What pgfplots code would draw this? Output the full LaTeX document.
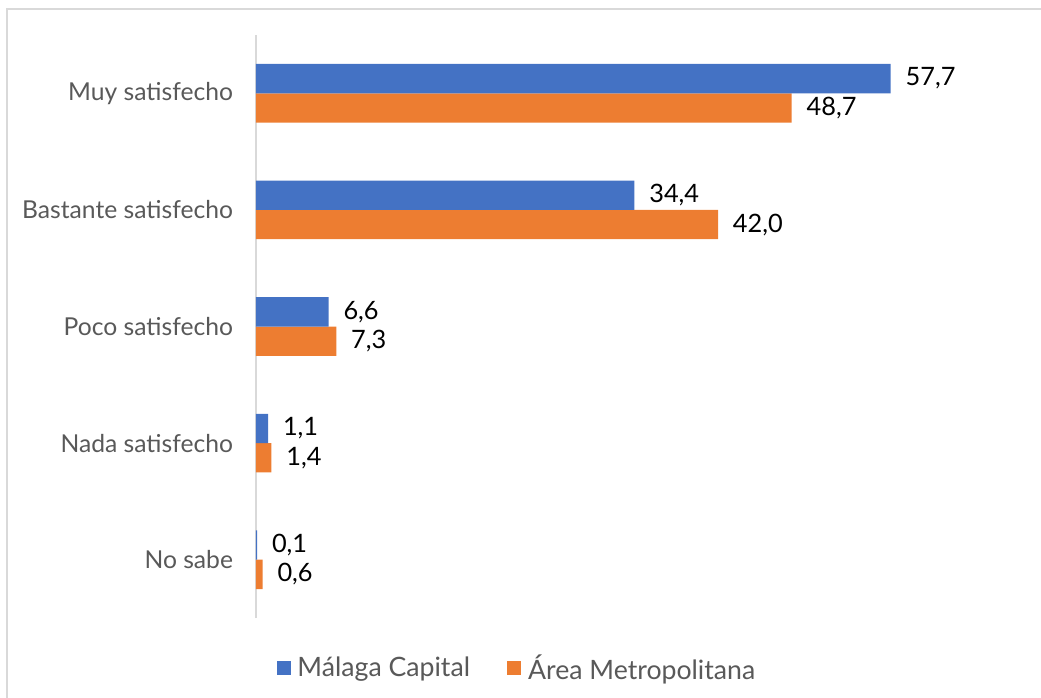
\documentclass[border=0pt]{standalone}
\usepackage{pgfplots}
\pgfplotsset{compat=1.18}
\usepackage{fontspec}
\setmainfont{Lato}
\definecolor{blueS}{HTML}{4472C4}
\definecolor{orangeS}{HTML}{ED7D31}
\definecolor{txtgray}{HTML}{595959}
\definecolor{framegray}{HTML}{D9D9D9}
\begin{document}
\begin{tikzpicture}
\begin{axis}[
  name=ax,
  at={(0,0)}, anchor=south west, scale only axis,
  width=577.5pt, height=437.25pt,
  xmin=0, xmax=70, ymin=-0.5, ymax=4.5,
  xbar=0pt, bar width=22pt,
  axis lines*=left,
  x axis line style={draw=none},
  y axis line style={framegray, line width=1.5pt},
  xtick=\empty,
  ytick={0,1,2,3,4},
  yticklabels={No sabe, Nada satisfecho, Poco satisfecho, Bastante satisfecho, Muy satisfecho},
  major tick length=0pt,
  yticklabel style={text=txtgray, font=\fontsize{18.5}{20}\selectfont, inner sep=0pt, xshift=-17pt},
  nodes near coords,
  nodes near coords style={anchor=west, inner sep=0pt, xshift=11pt, text=black,
     font=\fontsize{19}{21}\selectfont,
     /pgf/number format/.cd, fixed, fixed zerofill, precision=1, use comma, assume math mode=true},
  legend style={at={(0.3377,-0.0858)}, anchor=center, legend columns=2, draw=none,
     font=\fontsize{20}{22}\selectfont, text=txtgray,
     /tikz/every odd column/.append style={column sep=5pt},
     /tikz/every even column/.append style={column sep=28pt},
     nodes={inner sep=0pt}},
  reverse legend,
  legend cell align=left,
  legend image code/.code={\path[#1] (0pt,-5.25pt) rectangle (10.5pt,5.25pt);},
  clip=false,
]
\addplot[fill=orangeS, draw=none] coordinates {(48.7,4) (42.0,3) (7.3,2) (1.4,1) (0.6,0)};
\addplot[fill=blueS, draw=none] coordinates {(57.7,4) (34.4,3) (6.6,2) (1.1,1) (0.1,0)};
\legend{Área Metropolitana, Málaga Capital}
\coordinate (sw) at (rel axis cs:0,0);
\end{axis}
\pgfresetboundingbox
\path[use as bounding box] ([xshift=-192pt, yshift=-59.25pt]sw) rectangle ([xshift=588.75pt, yshift=463.5pt]sw);
\draw[framegray, line width=1.5pt] ([xshift=-186.4pt, yshift=-70pt]sw) -- ([xshift=-186.4pt, yshift=456.75pt]sw) -- ([xshift=600pt, yshift=456.75pt]sw);
\end{tikzpicture}
\end{document}
